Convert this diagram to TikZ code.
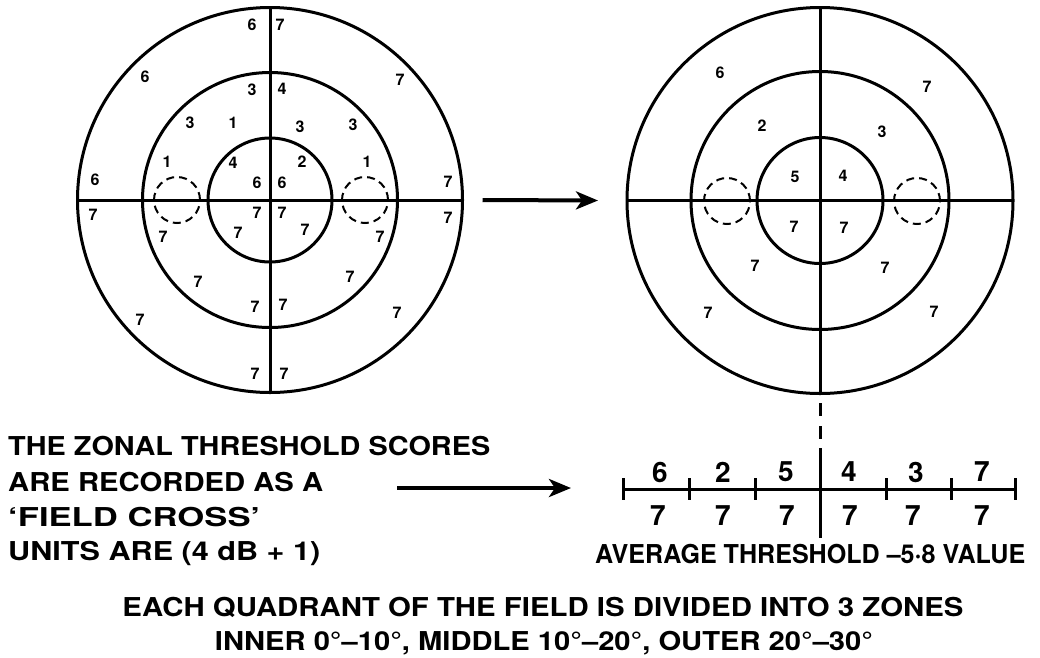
\documentclass[tikz,border=0pt]{standalone}
\usepackage{graphicx}
\usepackage{fontspec}
\setmainfont{TeX Gyre Heros}
\usetikzlibrary{arrows.meta}
\newcommand\fitw[2]{\resizebox{#1}{\height}{#2}}
\begin{document}
\begin{tikzpicture}[x=1pt,y=-1pt,
  ring/.style={draw, line width=3pt, circle, inner sep=0pt, outer sep=0pt},
  blind/.style={draw, line width=2pt, dash pattern=on 8pt off 5pt, circle, inner sep=0pt, outer sep=0pt, minimum size=46pt},
  axis/.style={line width=3pt},
  num/.style={font=\fontsize{16}{16}\selectfont\bfseries, inner sep=0pt},
  big/.style={font=\fontsize{28}{28}\selectfont\bfseries, inner sep=0pt},
  lbl/.style={font=\fontsize{26}{26}\selectfont\bfseries, inner sep=0pt, anchor=base west},
  bigarrow/.style={line width=4pt, -{Stealth[length=22pt,width=18pt,inset=6pt]}},
]
\useasboundingbox (0,0) rectangle (1040,657);

% ---------- left field ----------
\node[ring, minimum size=385pt] (Lo) at (270,200) {};
\node[ring, minimum size=255pt] (Lm) at (270,200) {};
\node[ring, minimum size=124pt] (Li) at (270,200) {};
\draw[axis] (Lo.north) -- (Lo.south);
\draw[axis] (Lo.west) -- (Lo.east);
\node[blind] (Lb1) at (177,200) {};
\node[blind] (Lb2) at (365,200) {};

\foreach \x/\y/\v [count=\i] in {
 252/25/6, 280/25/7, 145/77/6, 400/80/7, 252/90/3, 282/89/4,
 190/123/3, 233/123/1, 300/127/3, 353/125/3, 167/162/1, 233/163/4,
 302/162/2, 367/162/1, 95/180/6, 257/183/6, 282/183/6, 448/182/7,
 93/215/7, 448/218/7, 257/213/7, 282/213/7, 238/233/7, 305/230/7,
 163/237/7, 380/237/7, 198/282/7, 350/277/7, 255/307/7, 283/305/7,
 140/320/7, 397/313/7, 255/374/7, 284/374/7}
 \node[num] (L\i) at (\x,\y) {\v};

% ---------- right field ----------
\node[ring, minimum size=386pt] (Ro) at (820,200.5) {};
\node[ring, minimum size=258pt] (Rm) at (820,200.5) {};
\node[ring, minimum size=126pt] (Ri) at (820,200.5) {};
\draw[axis] (Ro.north) -- (Ro.south);
\draw[axis] (Ro.west) -- (Ro.east);
\node[blind] (Rb1) at (727,201) {};
\node[blind] (Rb2) at (917,201) {};

\foreach \x/\y/\v [count=\i] in {
 720/73/6, 927/87/7, 762/126/2, 882/132/3, 795/177/5, 843/176/4,
 794/227/7, 844/228/7, 755/266/7, 885/268/7, 708/313/7, 934/312/7}
 \node[num] (R\i) at (\x,\y) {\v};

% arrow between the fields
\draw[bigarrow] ([xshift=20pt]Lo.east) -- ([xshift=-29pt]Ro.west);

% ---------- field cross ----------
\coordinate (dA) at (820,403);
\coordinate (sTop) at (820,448);
\coordinate (sBot) at (820,538);
\draw[line width=3pt, dash pattern=on 13pt off 10pt] (dA) -- (sTop);
\draw[axis] (sTop) -- (sBot);
\foreach \x [count=\i from 0] in {623,689,755,820,886,951,1015}
  \coordinate (s\i) at (\x,489);
\draw[axis] (s0) -- (s6);
\foreach \i in {0,1,2,4,5,6}
  \draw[axis] (s\i) ++(0,-11) -- ++(0,22);

\foreach \x/\v [count=\i] in {660/6, 723/2, 786/5, 849/4, 916/3, 982/7}
  \node[big] (top\i) at (\x,472) {\v};
\foreach \x [count=\i] in {658, 723, 787, 850, 913, 982}
  \node[big] (bot\i) at (\x,516) {7};

\node[lbl] (avg) at (595,563) {\fitw{430pt}{AVERAGE THRESHOLD –5·8 VALUE}};

% ---------- left text ----------
\node[lbl] (t1) at (8,455) {\fitw{482pt}{THE ZONAL THRESHOLD SCORES}};
\node[lbl] (t2) at (8,491) {\fitw{315pt}{ARE RECORDED AS A}};
\node[lbl] (t3) at (8,526) {\fitw{252pt}{‘FIELD CROSS’}};
\node[lbl] (t4) at (8,560) {\fitw{312pt}{UNITS ARE (4 dB + 1)}};

\coordinate (aS) at (397,488);
\coordinate (aE) at (571,488);
\draw[bigarrow] (aS) -- (aE);

% ---------- bottom text ----------
\node[lbl, anchor=base] (b1) at (543,616) {\fitw{841pt}{EACH QUADRANT OF THE FIELD IS DIVIDED INTO 3 ZONES}};
\node[lbl, anchor=base] (b2) at (544,650) {\fitw{658pt}{INNER 0°–10°, MIDDLE 10°–20°, OUTER 20°–30°}};
\end{tikzpicture}
\end{document}
